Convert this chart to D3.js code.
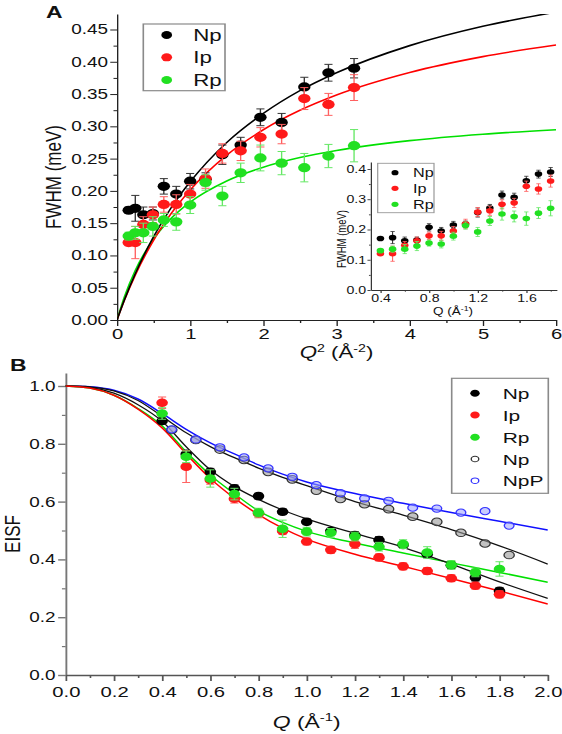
<!DOCTYPE html>
<html><head><meta charset="utf-8">
<script src="https://cdn.jsdelivr.net/npm/d3@7/dist/d3.min.js"></script>
<style>body{margin:0;background:#fff} svg{display:block}</style>
</head><body>
<script>
// ---------- Panel A data (FWHM vs Q^2) ----------
const q2A = [0.16,0.25,0.36,0.49,0.64,0.81,1.0,1.21,1.44,1.69,1.96,2.25,2.56,2.89,3.24];
const qInset = [0.4,0.5,0.6,0.7,0.8,0.9,1.0,1.1,1.2,1.3,1.4,1.5,1.6,1.7,1.8];
const fwhmNp = [0.170,0.173,0.163,0.165,0.207,0.195,0.215,0.218,0.256,0.271,0.314,0.306,0.361,0.383,0.390];
const fwhmIp = [0.120,0.120,0.148,0.163,0.179,0.179,0.195,0.219,0.258,0.262,0.283,0.288,0.343,0.334,0.360];
const fwhmRp = [0.130,0.135,0.135,0.145,0.155,0.152,0.178,0.213,0.192,0.228,0.251,0.243,0.236,0.254,0.270];
const errNpA = [0.005,0.020,0.012,0.010,0.012,0.012,0.012,0.010,0.015,0.012,0.013,0.014,0.015,0.013,0.015];
const errIpA = [0.005,0.025,0.012,0.012,0.012,0.015,0.015,0.015,0.015,0.015,0.015,0.015,0.017,0.017,0.020];
const errRpA = [0.006,0.010,0.015,0.015,0.010,0.013,0.013,0.012,0.015,0.015,0.020,0.018,0.022,0.018,0.025];
const q2Fit = [0,0.1,0.25,0.5,0.75,1,1.5,2,2.5,3,4,5,6];
const fitA_Np = [0,0.0308,0.0718,0.129,0.1756,0.214,0.275,0.320,0.3553,0.383,0.425,0.455,0.477];
const fitA_Ip = [0,0.0301,0.0696,0.1235,0.1664,0.2015,0.2554,0.2947,0.3248,0.3485,0.3834,0.408,0.426];
const fitA_Rp = [0,0.0357,0.0771,0.1254,0.1585,0.1826,0.2154,0.2367,0.2516,0.2626,0.2778,0.2878,0.2948];
const yTicksA = [0,0.05,0.10,0.15,0.20,0.25,0.30,0.35,0.40,0.45];
const yMinorA = [0.025,0.075,0.125,0.175,0.225,0.275,0.325,0.375,0.425];
const xTicksA = [0,1,2,3,4,5,6];
const xMinorA = [0.5,1.5,2.5,3.5,4.5,5.5];
const yTicksI = [0,0.1,0.2,0.3,0.4];
const yMinorI = [0.05,0.15,0.25,0.35];
const xTicksI = [0.4,0.8,1.2,1.6];
const xMinorI = [0.6,1.0,1.4,1.8];

// ---------- Panel B data (EISF vs Q) ----------
const qB = [0.4,0.5,0.6,0.7,0.8,0.9,1.0,1.1,1.2,1.3,1.4,1.5,1.6,1.7,1.8];
const eisfNp = [0.879,0.765,0.703,0.646,0.619,0.565,0.530,0.498,0.484,0.467,0.450,0.418,0.380,0.337,0.291];
const eisfIp = [0.942,0.721,0.675,0.610,0.559,0.498,0.462,0.433,0.453,0.407,0.376,0.360,0.335,0.309,0.279];
const eisfRp = [0.905,0.755,0.680,0.626,0.562,0.506,0.496,0.492,0.479,0.444,0.453,0.424,0.381,0.355,0.367];
const errNpB = [0.010,0.012,0.012,0.012,0.010,0.010,0.010,0.010,0.012,0.012,0.012,0.012,0.012,0.012,0.012];
const errIpB = [0.020,0.055,0.015,0.015,0.015,0.012,0.012,0.012,0.015,0.012,0.012,0.012,0.012,0.012,0.012];
const errRpB = [0.020,0.020,0.030,0.020,0.015,0.030,0.015,0.015,0.015,0.015,0.015,0.020,0.015,0.015,0.025];
const qOpen = [0.44,0.54,0.64,0.74,0.84,0.94,1.04,1.14,1.24,1.34,1.44,1.54,1.64,1.74,1.84];
const eisfNpOpen = [0.848,0.813,0.780,0.744,0.703,0.677,0.638,0.609,0.591,0.574,0.548,0.530,0.492,0.455,0.415];
const eisfNpP = [0.850,0.815,0.788,0.753,0.715,0.686,0.657,0.629,0.611,0.603,0.579,0.576,0.562,0.567,0.517];
const qFit = [0,0.1,0.2,0.3,0.4,0.5,0.6,0.7,0.8,0.9,1.0,1.2,1.4,1.6,1.8,2.0];
const fitB_Np = [1,0.995,0.975,0.935,0.878,0.790,0.710,0.652,0.608,0.571,0.540,0.490,0.442,0.384,0.322,0.265];
const fitB_Ip = [1,0.993,0.968,0.920,0.855,0.765,0.680,0.612,0.555,0.508,0.470,0.418,0.376,0.334,0.291,0.246];
const fitB_Rp = [1,0.993,0.968,0.922,0.862,0.772,0.692,0.627,0.568,0.528,0.497,0.457,0.422,0.388,0.355,0.321];
const fitB_NpOpen = [1,0.997,0.983,0.950,0.895,0.838,0.790,0.752,0.716,0.684,0.655,0.600,0.553,0.503,0.447,0.384];
const fitB_NpP = [1,0.997,0.985,0.955,0.905,0.850,0.803,0.765,0.727,0.695,0.668,0.628,0.594,0.562,0.532,0.502];
const yTicksB = [0,0.2,0.4,0.6,0.8,1.0];
const yMinorB = [0.1,0.3,0.5,0.7,0.9];
const xTicksB = [0,0.2,0.4,0.6,0.8,1.0,1.2,1.4,1.6,1.8,2.0];
const xMinorB = [0.1,0.3,0.5,0.7,0.9,1.1,1.3,1.5,1.7,1.9];

// ---------- setup ----------
const FONT = 'Arial, "Liberation Sans", sans-serif';
const SX = 1.35;               // horizontal stretch of the original figure
const X = px => px / SX;
const C = {np:"#000000", ip:"#ff1a1a", rp:"#22e022", blue:"#2a2aff", gray:"#222222"};
const CE = {np:"#333333", ip:"#ff6060", rp:"#66e866"};

const svg = d3.select("body").append("svg")
  .attr("width",562).attr("height",734)
  .attr("viewBox",`0 0 ${562/SX} 734`)
  .attr("preserveAspectRatio","none")
  .style("font-family",FONT);

function axis(g, ax, color, sw, fs){
  g.call(ax).attr("font-family",FONT).attr("font-size",fs);
  g.select(".domain").attr("stroke",color).attr("stroke-width",sw);
  g.selectAll(".tick line").attr("stroke",color).attr("stroke-width",sw);
  g.selectAll(".tick text").attr("fill","#111");
}
function minor(g, ax, color, sw){
  g.call(ax);
  g.select(".domain").remove();
  g.selectAll(".tick line").attr("stroke",color).attr("stroke-width",sw);
  g.selectAll(".tick text").remove();
}
function errBars(g, xs, ys, es, xs_, ys_, color, cap, sw){
  xs.forEach((x,i)=>{
    const cx = xs_(x), y1 = ys_(ys[i]-es[i]), y2 = ys_(ys[i]+es[i]);
    g.append("line").attr("x1",cx).attr("x2",cx).attr("y1",y1).attr("y2",y2).attr("stroke",color).attr("stroke-width",sw);
    [y1,y2].forEach(yy=>g.append("line").attr("x1",cx-cap).attr("x2",cx+cap).attr("y1",yy).attr("y2",yy).attr("stroke",color).attr("stroke-width",sw));
  });
}
function dots(g, xs, ys, xs_, ys_, color, r){
  g.selectAll(null).data(xs).enter().append("circle")
    .attr("cx",d=>xs_(d)).attr("cy",(d,i)=>ys_(ys[i])).attr("r",r).attr("fill",color);
}
function curve(g, xs, ys, xs_, ys_, color, sw){
  const line = d3.line().x(d=>xs_(d[0])).y(d=>ys_(d[1])).curve(d3.curveMonotoneX);
  g.append("path").attr("d",line(xs.map((x,i)=>[x,ys[i]])))
    .attr("fill","none").attr("stroke",color).attr("stroke-width",sw)
    .attr("vector-effect","non-scaling-stroke");
}

// ================= PANEL A =================
const xA = d3.scaleLinear().domain([0,6]).range([X(117),X(556)]);
const yA = d3.scaleLinear().domain([0,0.474]).range([320,14]);
const gA = svg.append("g");
svg.append("defs").append("clipPath").attr("id","clipA").append("rect")
  .attr("x",xA(0)).attr("y",yA(0.474)).attr("width",xA(6)-xA(0)+2).attr("height",yA(0)-yA(0.474));

axis(gA.append("g").attr("transform",`translate(${xA(0)},0)`),
  d3.axisLeft(yA).tickValues(yTicksA).tickFormat(d3.format(".2f")).tickSize(5).tickSizeOuter(0).tickPadding(1.6), "#222", 1, 14);
minor(gA.append("g").attr("transform",`translate(${xA(0)},0)`),
  d3.axisLeft(yA).tickValues(yMinorA).tickSize(2.6).tickFormat(""), "#222", 1);
axis(gA.append("g").attr("transform",`translate(0,${yA(0)})`),
  d3.axisBottom(xA).tickValues(xTicksA).tickFormat(d3.format("d")).tickSize(6).tickSizeOuter(0).tickPadding(2.5), "#222", 1, 15);
minor(gA.append("g").attr("transform",`translate(0,${yA(0)})`),
  d3.axisBottom(xA).tickValues(xMinorA).tickSize(3).tickFormat(""), "#222", 1);

const cA = gA.append("g").attr("clip-path","url(#clipA)");
curve(cA, q2Fit, fitA_Rp, xA, yA, "#00e000", 1.6);
curve(cA, q2Fit, fitA_Ip, xA, yA, "#ff0000", 1.6);
curve(cA, q2Fit, fitA_Np, xA, yA, "#000", 1.6);

const pA = gA.append("g");
errBars(pA, q2A, fwhmNp, errNpA, xA, yA, CE.np, 3, 1);
dots(pA, q2A, fwhmNp, xA, yA, C.np, 4.6);
errBars(pA, q2A, fwhmIp, errIpA, xA, yA, CE.ip, 3, 1);
dots(pA, q2A, fwhmIp, xA, yA, C.ip, 4.6);
errBars(pA, q2A, fwhmRp, errRpA, xA, yA, CE.rp, 3, 1);
dots(pA, q2A, fwhmRp, xA, yA, C.rp, 4.6);

// legend A
const lgA = gA.append("g");
lgA.append("rect").attr("x",X(143.3)).attr("y",24).attr("width",X(225)-X(143.3)).attr("height",66.7)
  .attr("fill","#fff").attr("stroke","#8a8a8a").attr("stroke-width",1.2);
[["Np",C.np,35],["Ip",C.ip,57.3],["Rp",C.rp,80]].forEach(([t,c,y])=>{
  lgA.append("circle").attr("cx",X(166.7)).attr("cy",y).attr("r",4).attr("fill",c);
  lgA.append("text").attr("x",X(193.3)).attr("y",y).attr("dy","0.36em").attr("font-size",16.5).attr("fill","#111").text(t);
});

// axis titles A
gA.append("text").attr("transform",`translate(${X(53)},177) rotate(-90)`).attr("text-anchor","middle")
  .attr("dy","0.36em").attr("font-size",17).attr("fill","#111").text("FWHM (meV)");
const tA = gA.append("text").attr("x",X(336.5)).attr("y",358).attr("text-anchor","middle").attr("font-size",16.5).attr("fill","#111");
tA.append("tspan").attr("font-style","italic").text("Q");
tA.append("tspan").attr("font-size",10.5).attr("dy",-6).text("2");
tA.append("tspan").attr("dy",6).text(" (Å");
tA.append("tspan").attr("font-size",10.5).attr("dy",-6).text("-2");
tA.append("tspan").attr("dy",6).text(")");
gA.append("text").attr("x",X(46)).attr("y",18).attr("font-size",17).attr("font-weight","bold").attr("fill","#111").text("A");

// ---------- inset ----------
const xI = d3.scaleLinear().domain([0.32,1.85]).range([X(370.7),X(556.7)]);
const yI = d3.scaleLinear().domain([0,0.423]).range([290,162]);
const gI = svg.append("g");
axis(gI.append("g").attr("transform",`translate(${xI(0.32)},0)`),
  d3.axisLeft(yI).tickValues(yTicksI).tickFormat(d3.format(".1f")).tickSize(2.4).tickSizeOuter(0).tickPadding(1), "#333", 0.9, 10.5);
minor(gI.append("g").attr("transform",`translate(${xI(0.32)},0)`),
  d3.axisLeft(yI).tickValues(yMinorI).tickSize(1.3).tickFormat(""), "#333", 0.9);
axis(gI.append("g").attr("transform",`translate(0,${yI(0)})`),
  d3.axisBottom(xI).tickValues(xTicksI).tickFormat(d3.format(".1f")).tickSize(3).tickSizeOuter(0).tickPadding(2), "#333", 0.9, 10.5);
minor(gI.append("g").attr("transform",`translate(0,${yI(0)})`),
  d3.axisBottom(xI).tickValues(xMinorI).tickSize(1.6).tickFormat(""), "#333", 0.9);
const pI = gI.append("g");
errBars(pI, qInset, fwhmNp, errNpA, xI, yI, CE.np, 1.6, 0.8);
dots(pI, qInset, fwhmNp, xI, yI, C.np, 2.8);
errBars(pI, qInset, fwhmIp, errIpA, xI, yI, CE.ip, 1.6, 0.8);
dots(pI, qInset, fwhmIp, xI, yI, C.ip, 2.8);
errBars(pI, qInset, fwhmRp, errRpA, xI, yI, CE.rp, 1.6, 0.8);
dots(pI, qInset, fwhmRp, xI, yI, C.rp, 2.8);
const lgI = gI.append("g");
lgI.append("rect").attr("x",X(377.7)).attr("y",163.3).attr("width",X(434)-X(377.7)).attr("height",49.4)
  .attr("fill","#fff").attr("stroke","#999").attr("stroke-width",0.9);
[["Np",C.np,172.7],["Ip",C.ip,188.3],["Rp",C.rp,204.3]].forEach(([t,c,y])=>{
  lgI.append("circle").attr("cx",X(395)).attr("cy",y).attr("r",2.6).attr("fill",c);
  lgI.append("text").attr("x",X(413)).attr("y",y).attr("dy","0.36em").attr("font-size",12).attr("fill","#111").text(t);
});
gI.append("text").attr("transform",`translate(${X(341)},239) rotate(-90)`).attr("text-anchor","middle")
  .attr("dy","0.36em").attr("font-size",9.5).attr("fill","#111").text("FWHM (meV)");
const tI = gI.append("text").attr("x",X(453)).attr("y",315).attr("text-anchor","middle").attr("font-size",10).attr("fill","#111");
tI.append("tspan").text("Q (Å");
tI.append("tspan").attr("font-size",6.5).attr("dy",-4).text("-1");
tI.append("tspan").attr("dy",4).text(")");

// ================= PANEL B =================
const xB = d3.scaleLinear().domain([0,2]).range([X(65.7),X(547.7)]);
const yB = d3.scaleLinear().domain([0,1.045]).range([675,373]);
const gB = svg.append("g");
axis(gB.append("g").attr("transform",`translate(${xB(0)},0)`),
  d3.axisLeft(yB).tickValues(yTicksB).tickFormat(d3.format(".1f")).tickSize(5.6).tickSizeOuter(0).tickPadding(2), "#777", 1.4, 14);
minor(gB.append("g").attr("transform",`translate(${xB(0)},0)`),
  d3.axisLeft(yB).tickValues(yMinorB).tickSize(2.8).tickFormat(""), "#777", 1.2);
axis(gB.append("g").attr("transform",`translate(0,${yB(0)})`),
  d3.axisBottom(xB).tickValues(xTicksB).tickFormat(d3.format(".1f")).tickSize(6).tickSizeOuter(0).tickPadding(5), "#555", 1.3, 15);
minor(gB.append("g").attr("transform",`translate(0,${yB(0)})`),
  d3.axisBottom(xB).tickValues(xMinorB).tickSize(3).tickFormat(""), "#555", 1.2);

curve(gB, qFit, fitB_NpP, xB, yB, "#1010ff", 1.5);
curve(gB, qFit, fitB_NpOpen, xB, yB, "#111", 1.3);
curve(gB, qFit, fitB_Rp, xB, yB, "#00e000", 1.5);
curve(gB, qFit, fitB_Np, xB, yB, "#111", 1.3);
curve(gB, qFit, fitB_Ip, xB, yB, "#ff0000", 1.5);

const pB = gB.append("g");
errBars(pB, qB, eisfNp, errNpB, xB, yB, CE.np, 3, 1);
dots(pB, qB, eisfNp, xB, yB, C.np, 4.3);
errBars(pB, qB, eisfIp, errIpB, xB, yB, CE.ip, 3, 1);
dots(pB, qB, eisfIp, xB, yB, C.ip, 4.3);
errBars(pB, qB, eisfRp, errRpB, xB, yB, CE.rp, 3, 1);
dots(pB, qB, eisfRp, xB, yB, C.rp, 4.3);
pB.selectAll(null).data(qOpen).enter().append("circle")
  .attr("cx",d=>xB(d)).attr("cy",(d,i)=>yB(eisfNpOpen[i])).attr("r",3.8)
  .attr("fill","#9a9a9a").attr("fill-opacity",0.6).attr("stroke","#333").attr("stroke-width",1);
pB.selectAll(null).data(qOpen).enter().append("circle")
  .attr("cx",d=>xB(d)).attr("cy",(d,i)=>yB(eisfNpP[i])).attr("r",3.6)
  .attr("fill","#9aa0ff").attr("fill-opacity",0.55).attr("stroke","#3535ff").attr("stroke-width",1);

// legend B
const lgB = gB.append("g");
lgB.append("rect").attr("x",X(451.7)).attr("y",378.3).attr("width",X(548.3)-X(451.7)).attr("height",115)
  .attr("fill","#fff").attr("stroke","#8a8a8a").attr("stroke-width",1.2);
[["Np",C.np,393.3,"f"],["Ip",C.ip,415,"f"],["Rp",C.rp,437.3,"f"],["Np","#333",459,"o"],["NpP","#3535ff",480.7,"o"]].forEach(([t,c,y,k])=>{
  const s = lgB.append("circle").attr("cx",X(475)).attr("cy",y);
  if(k==="f") s.attr("r",3.5).attr("fill",c);
  else s.attr("r",2.8).attr("fill","#fff").attr("stroke",c).attr("stroke-width",1);
  lgB.append("text").attr("x",X(502.7)).attr("y",y).attr("dy","0.36em").attr("font-size",15.5).attr("fill","#111").text(t);
});

gB.append("text").attr("transform",`translate(${X(12)},534) rotate(-90)`).attr("text-anchor","middle")
  .attr("dy","0.36em").attr("font-size",17).attr("fill","#111").text("EISF");
const tB = gB.append("text").attr("x",X(306.7)).attr("y",728).attr("text-anchor","middle").attr("font-size",17).attr("fill","#111");
tB.append("tspan").attr("font-style","italic").text("Q");
tB.append("tspan").text(" (Å");
tB.append("tspan").attr("font-size",11).attr("dy",-7).text("-1");
tB.append("tspan").attr("dy",7).text(")");
gB.append("text").attr("x",X(10)).attr("y",371).attr("font-size",17).attr("font-weight","bold").attr("fill","#111").text("B");
</script>
</body></html>
